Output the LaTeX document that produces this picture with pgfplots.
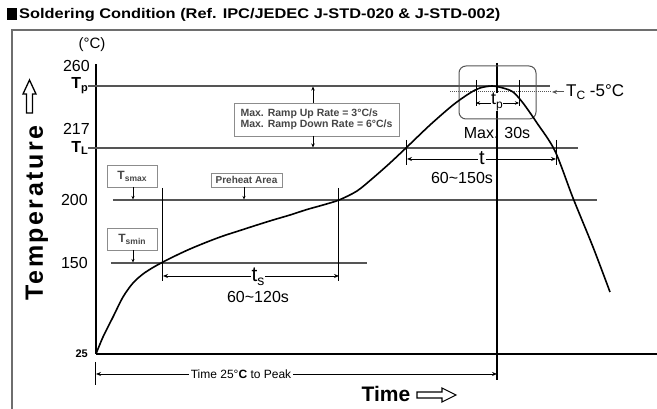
\documentclass[border=0pt]{standalone}
\usepackage{pgfplots}
\pgfplotsset{compat=1.18}
\usepackage{fontspec}
\setmainfont{Liberation Sans}
\newfontfamily\spacedfont[LetterSpace=10]{Liberation Sans}
\usetikzlibrary{arrows.meta}
\definecolor{guide}{RGB}{85,85,85}
\definecolor{framec}{RGB}{110,110,110}
\definecolor{boxc}{RGB}{140,140,140}
\definecolor{boxt}{RGB}{70,70,70}
\newcommand{\fs}[1]{\fontsize{#1}{#1}\selectfont}
\begin{document}
\begin{tikzpicture}[x=1pt,y=1pt]
\begin{axis}[
  scale only axis, width=561pt, height=290pt,
  xmin=96, xmax=657, ymin=55, ymax=345,
  axis x line*=bottom, axis y line*=left,
  axis line style={line width=2pt, -},
  xtick=\empty,
  ytick={55,146,209,261,323},
  yticklabels={{\fs{11}\bfseries 25},{150},{200},{\bfseries T\raisebox{-0.3ex}{\fs{11}L}},{\bfseries T\raisebox{-0.35ex}{\fs{11}p}}},
  yticklabel style={font=\fs{16}, anchor=east, inner sep=0pt, xshift=-8pt},
  major tick length=0pt,
  clip=false,
]
% page frame
\coordinate (bbsw) at (axis cs:0,0);
\coordinate (bbne) at (axis cs:657,409);
\draw[framec, line width=1.3pt] (axis cs:12,-20) -- (axis cs:12,379) -- (axis cs:680,379);
% title
\fill (axis cs:7,389) rectangle (axis cs:17,401);
\node[anchor=base west, inner sep=0pt, font=\fs{14}\bfseries, xscale=1.17] at (axis cs:19,390) {Soldering Condition (Ref. IPC/JEDEC J-STD-020 \& J-STD-002)};
% axis unit and extra labels
\node[font=\fs{15}] at (axis cs:92,364) {(°C)};
\node[anchor=east, inner sep=0pt, font=\fs{16}] at (axis cs:90,343) {260};
\node[anchor=east, inner sep=0pt, font=\fs{16}] at (axis cs:90,280) {217};
% Temperature label
\node[rotate=90, anchor=base, inner sep=0pt, font=\spacedfont\bfseries\fs{25}] at (axis cs:43,196) {Temperature};
\draw[line width=1.3pt] (axis cs:26.5,296) -- (axis cs:26.5,315) -- (axis cs:23,315) -- (axis cs:29.5,329) -- (axis cs:36,315) -- (axis cs:32.5,315) -- (axis cs:32.5,296) -- cycle;
% Time label
\node[anchor=base, inner sep=0pt, font=\bfseries\fs{21}] at (axis cs:386,7) {Time};
\draw[line width=1.1pt] (axis cs:417,11) -- (axis cs:442,11) -- (axis cs:442,7) -- (axis cs:456,14) -- (axis cs:442,21) -- (axis cs:442,17) -- (axis cs:417,17) -- cycle;
% guide lines
\draw[guide, line width=1.2pt] (axis cs:88,323) -- (axis cs:550,323);
\draw[guide, line width=1.2pt] (axis cs:88,261) -- (axis cs:578,261);
\draw[guide, line width=1.2pt] (axis cs:113,209) -- (axis cs:597,209);
\draw[guide, line width=1.2pt] (axis cs:111,146) -- (axis cs:367,146);
\draw[guide, line width=1pt, densely dotted] (axis cs:450,317) -- (axis cs:551,317);
\draw[guide, line width=1pt, -{Stealth[length=5pt,width=4pt]}] (axis cs:564,317) -- (axis cs:552,317);
\node[anchor=west, inner sep=0pt, font=\fs{17}] at (axis cs:566,317) {T\raisebox{-0.35ex}{\fs{12}C} -5°C};
% vertical lines
\draw[line width=1.1pt] (axis cs:497,346) -- (axis cs:497,29);
\draw[line width=1pt] (axis cs:163,221) -- (axis cs:163,128);
\draw[line width=1pt] (axis cs:339,221) -- (axis cs:339,128);
\draw[line width=1pt] (axis cs:407,269) -- (axis cs:407,244);
\draw[line width=1pt] (axis cs:556,269) -- (axis cs:556,244);
\draw[line width=1pt] (axis cs:476,329) -- (axis cs:476,303);
\draw[line width=1pt] (axis cs:519,329) -- (axis cs:519,303);
\draw[line width=1pt] (axis cs:96,47) -- (axis cs:96,24);
% dimension arrows
\draw[line width=0.9pt, {Stealth[length=5pt,width=4pt]}-{Stealth[length=5pt,width=4pt]}] (axis cs:163,133) -- (axis cs:339,133);
\node[fill=white, inner sep=1pt, font=\fs{21}] at (axis cs:258,132) {t\raisebox{-0.4ex}{\fs{14}s}};
\node[font=\fs{16}] at (axis cs:258,112) {60\textasciitilde120s};
\draw[line width=0.9pt, {Stealth[length=5pt,width=4pt]}-{Stealth[length=5pt,width=4pt]}] (axis cs:407,250) -- (axis cs:556,250);
\node[fill=white, inner sep=1pt, font=\fs{20}] at (axis cs:482,251) {t};
\node[font=\fs{16}] at (axis cs:462,231) {60\textasciitilde150s};
\draw[line width=0.9pt, {Stealth[length=4pt,width=3.5pt]}-{Stealth[length=4pt,width=3.5pt]}] (axis cs:476,306) -- (axis cs:519,306);
\node[fill=white, inner sep=0.5pt, font=\fs{18}] at (axis cs:497,307) {t\raisebox{-0.4ex}{\fs{12}p}};
\node[font=\fs{16}] at (axis cs:497,276) {Max. 30s};
\draw[guide, rounded corners=7pt, line width=1pt] (axis cs:459,290) rectangle (axis cs:536,343);
\draw[line width=0.9pt, {Stealth[length=5pt,width=4pt]}-{Stealth[length=5pt,width=4pt]}] (axis cs:96,35) -- (axis cs:497,35);
\node[fill=white, inner sep=1.5pt, font=\fs{12}] at (axis cs:241,35) {Time 25°\textbf{C} to Peak};
% small boxes
\draw[boxc, line width=0.9pt] (axis cs:107,222) rectangle (axis cs:157,244);
\node[boxt, font=\bfseries\fs{12}] at (axis cs:132,233) {T\raisebox{-0.3ex}{\fs{8.5}smax}};
\draw[line width=0.8pt, -{Stealth[length=3.5pt,width=3pt]}] (axis cs:133,222) -- (axis cs:133,209.5);
\draw[boxc, line width=0.9pt] (axis cs:107,159) rectangle (axis cs:157,181);
\node[boxt, font=\bfseries\fs{12}] at (axis cs:132,170) {T\raisebox{-0.3ex}{\fs{8.5}smin}};
\draw[line width=0.8pt, -{Stealth[length=3.5pt,width=3pt]}] (axis cs:133,159) -- (axis cs:133,146.5);
\draw[boxc, line width=0.9pt] (axis cs:211,222) rectangle (axis cs:282,236);
\node[boxt, font=\bfseries\fs{10}] at (axis cs:246.5,229) {Preheat Area};
\draw[line width=0.8pt, -{Stealth[length=3.5pt,width=3pt]}] (axis cs:244,222) -- (axis cs:244,209.5);
\draw[boxc, line width=0.9pt] (axis cs:234,273) rectangle (axis cs:399,306);
\node[boxt, font=\bfseries\fs{10.5}, align=left, anchor=west] at (axis cs:237,289.5) {Max. Ramp Up Rate = 3°C/s\\[1pt]Max. Ramp Down Rate = 6°C/s};
\draw[line width=0.8pt, -{Stealth[length=4pt,width=3.5pt]}] (axis cs:313,306) -- (axis cs:313,322.5);
\draw[line width=0.8pt, -{Stealth[length=4pt,width=3.5pt]}] (axis cs:313,273) -- (axis cs:313,261.5);
% reflow profile
\addplot[smooth, tension=0.5, line width=1.6pt, black] coordinates {
(96,55) (103,72) (113,92) (123,112) (133,126) (143,135) (153,141.5) (163,147)
(177,154) (190,160) (207,167) (223,173) (240,178.5) (257,184) (273,189)
(290,194) (307,199.5) (323,204) (339,209) (357,218) (373,231) (390,246)
(407,262) (430,284) (453,304) (470,316) (480,321) (492,323) (503,321)
(513,317) (523,306) (537,286) (555,258) (573,211) (593,162) (610,117)};
\end{axis}
\pgfresetboundingbox
\path[use as bounding box] (bbsw) rectangle (bbne);
\end{tikzpicture}
\end{document}
